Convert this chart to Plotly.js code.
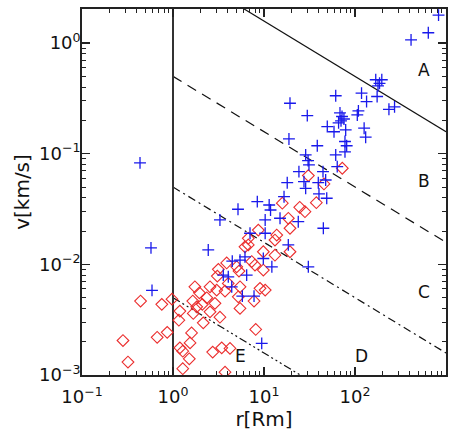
<!DOCTYPE html>
<html>
<head>
<meta charset="utf-8">
<script src="https://cdn.plot.ly/plotly-3.0.1.min.js"></script>
<style>
  html, body { margin: 0; padding: 0; background: #fff; }
  #chart { width: 459px; height: 432px; }
</style>
</head>
<body>
<div id="chart"></div>
<script>
// Blue sample: distance r [Rm] and speed v [km/s]
const blueR = [828, 639, 413, 169, 197, 186, 179, 175, 118, 134, 236, 272, 109,
  68.4, 72, 75.6, 70.2, 61.4, 19.3, 29.9, 106, 49.6, 58.8, 79, 126, 131, 77.6,
  18.8, 38.5, 77.6, 28.7, 30.5, 31.2, 61.4, 63.8, 24.2, 44.5, 47.6, 18.0, 27.5,
  28.7, 39.5, 48.9, 16.6, 8.44, 11.4, 11.8, 5.18, 40.2, 0.434, 0.573, 0.588,
  2.44, 3.28, 5.45, 6.18, 3.57, 4.05, 4.42, 6.45, 10.3, 15.0, 23.8, 44.9, 7.02,
  10.3, 18.5, 30.7, 9.83, 12.2, 7.77, 9.44, 4.48, 5.78, 66.0, 81.0];
const blueV = [1.79, 1.24, 1.07, 0.466, 0.466, 0.433, 0.411, 0.329, 0.353, 0.296,
  0.252, 0.265, 0.244, 0.234, 0.217, 0.206, 0.198, 0.334, 0.286, 0.221, 0.224,
  0.176, 0.158, 0.164, 0.170, 0.141, 0.129, 0.136, 0.118, 0.104, 0.0975, 0.0866,
  0.0792, 0.0975, 0.0764, 0.0689, 0.0689, 0.0579, 0.0547, 0.0559, 0.0487, 0.0547,
  0.0396, 0.0409, 0.0369, 0.0344, 0.031, 0.0315, 0.0433, 0.0826, 0.0141, 0.00582,
  0.0135, 0.0252, 0.0109, 0.0117, 0.0080, 0.00772, 0.00627, 0.0080, 0.0252,
  0.0261, 0.0243, 0.0212, 0.0191, 0.0191, 0.0150, 0.0095, 0.0113, 0.0095,
  0.00516, 0.00193, 0.0107, 0.00516, 0.190, 0.118];

// Red sample
const redR = [0.44, 0.753, 0.975, 0.282, 0.670, 0.864, 0.320, 1.19, 1.16, 1.74,
  1.95, 1.65, 2.10, 2.35, 2.55, 2.89, 3.07, 3.15, 3.89, 3.73, 3.28, 2.15, 1.60,
  1.54, 1.19, 1.28, 1.51, 1.28, 2.73, 3.43, 4.23, 1.67, 1.82, 2.55, 5.45, 5.22,
  3.73, 8.66, 13.8, 13.2, 18.5, 19.3, 9.83, 13.2, 19.3, 7.33, 7.96, 9.83, 9.04,
  10.3, 6.72, 5.31, 7.77, 8.11, 72.5, 30.7, 45.6, 15.9, 37.6, 24.7, 28.2, 5.01,
  4.05, 3.02, 5.45, 6.72, 6.18];
const redV = [0.00466, 0.00435, 0.00485, 0.00205, 0.00219, 0.00243, 0.00131,
  0.00378, 0.00313, 0.00627, 0.00553, 0.00466, 0.00435, 0.00499, 0.00627,
  0.00444, 0.00783, 0.00901, 0.0103, 0.00573, 0.00333, 0.00296, 0.0024, 0.00195,
  0.00176, 0.00164, 0.0014, 0.00114, 0.00161, 0.00176, 0.00174, 0.0036, 0.00413,
  0.00372, 0.0040, 0.00509, 0.00106, 0.0204, 0.0184, 0.0166, 0.0261, 0.0212,
  0.013, 0.0121, 0.013, 0.0106, 0.00986, 0.00888, 0.00607, 0.00585, 0.015,
  0.00869, 0.00466, 0.00258, 0.0739, 0.0634, 0.0533, 0.0357, 0.0361, 0.0328,
  0.0299, 0.0095, 0.00673, 0.00585, 0.00627, 0.0172, 0.0144];

// Reference lines v = k * r^(-1/2), one per boundary
const guideK = [5, 0.5, 0.05, 0.005];
const guideDash = ['solid', '10px,7px', '8px,4px,2px,4px', '8px,3px,2px,3px,2px,3px,2px,3px'];
const guideR = [1, 1000];

// Region labels and their positions (log10 r, log10 v)
const regionText = ['A', 'B', 'C', 'D', 'E'];
const regionLogR = [2.758, 2.758, 2.758, 2.074, 0.744];
const regionLogV = [-0.242, -1.245, -2.249, -2.828, -2.828];

const tickVals = [0.1, 1, 10, 100, 1000];
const tickTextX = ['10<sup>−1</sup>', '10<sup>0</sup>', '10<sup>1</sup>', '10<sup>2</sup>', '10<sup>3</sup>'];
const yTickVals = [0.001, 0.01, 0.1, 1];
const yTickText = ['10<sup>−3</sup>', '10<sup>−2</sup>', '10<sup>−1</sup>', '10<sup>0</sup>'];

const FONT = 'DejaVu Sans, sans-serif';
const INK = '#222';

const traces = [];

guideK.forEach((k, i) => {
  traces.push({
    x: guideR,
    y: guideR.map(r => k / Math.sqrt(r)),
    mode: 'lines',
    line: { color: '#111', width: 1.2, dash: guideDash[i] },
    hoverinfo: 'skip'
  });
});

traces.push({
  x: [1, 1],
  y: [0.0005, 5],
  mode: 'lines',
  line: { color: '#333', width: 2 },
  hoverinfo: 'skip'
});

traces.push({
  x: redR, y: redV,
  mode: 'markers',
  marker: { symbol: 'diamond-open', size: 9, color: 'rgb(235,45,45)', line: { width: 1.1, color: 'rgb(235,45,45)' } }
});

traces.push({
  x: blueR, y: blueV,
  mode: 'markers',
  marker: { symbol: 'cross-thin-open', size: 8.5, color: 'rgb(25,25,235)', line: { width: 1.3, color: 'rgb(25,25,235)' } }
});

const axisCommon = {
  type: 'log',
  showgrid: false,
  zeroline: false,
  showline: true,
  linecolor: INK,
  linewidth: 1.8,
  mirror: 'allticks',
  ticks: 'inside',
  ticklen: 8,
  tickwidth: 1.2,
  tickcolor: INK,
  tickmode: 'array',
  tickfont: { family: FONT, size: 18, color: '#111' },
  minor: { ticks: 'inside', ticklen: 4, tickwidth: 1, tickcolor: INK, dtick: 'D1', showgrid: false }
};

const layout = {
  width: 459,
  height: 432,
  margin: { l: 82, r: 13, t: 9, b: 57 },
  paper_bgcolor: '#fff',
  plot_bgcolor: '#fff',
  showlegend: false,
  font: { family: FONT, color: '#111' },
  xaxis: Object.assign({}, axisCommon, {
    range: [-1, 3],
    tickvals: tickVals,
    ticktext: tickTextX,
    ticklabelstandoff: 5,
    title: { text: 'r[Rm]', font: { family: FONT, size: 20, color: '#111' }, standoff: 3 }
  }),
  yaxis: Object.assign({}, axisCommon, {
    range: [-3, 0.308],
    tickvals: yTickVals,
    ticktext: yTickText,
    ticklabelstandoff: -4,
    title: { text: 'v[km/s]', font: { family: FONT, size: 20, color: '#111' }, standoff: 4 }
  }),
  annotations: regionText.map((t, i) => ({
    x: regionLogR[i], y: regionLogV[i], xref: 'x', yref: 'y',
    text: t, showarrow: false,
    font: { family: FONT, size: 17, color: '#111' }
  }))
};

Plotly.newPlot('chart', traces, layout, { staticPlot: true, displayModeBar: false });
</script>
</body>
</html>
